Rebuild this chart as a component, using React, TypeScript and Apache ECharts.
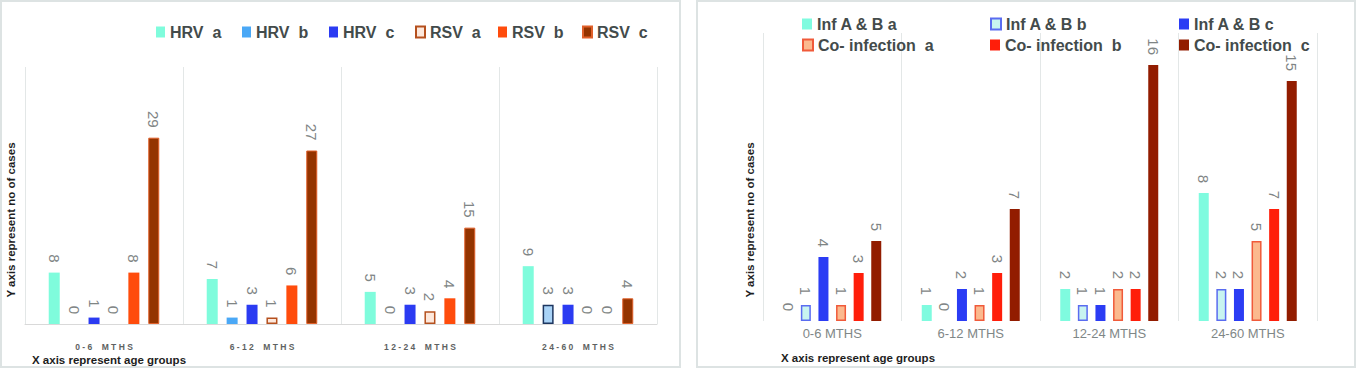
import React, { useEffect, useRef } from "react";
import * as echarts from "echarts";

const categories = ["0-6 MTHS", "6-12 MTHS", "12-24 MTHS", "24-60 MTHS"];

// Left chart: HRV / RSV
const hrvA = [8, 7, 5, 9];
const hrvB = [0, 1, 0, 3];
const hrvC = [1, 3, 3, 3];
const rsvA = [0, 1, 2, 0];
const rsvB = [8, 6, 4, 0];
const rsvC = [29, 27, 15, 4];

// Right chart: Influenza A & B / Co-infection
const infA = [0, 1, 2, 8];
const infB = [1, 0, 1, 2];
const infC = [4, 2, 1, 2];
const coA = [1, 1, 2, 5];
const coB = [3, 3, 2, 7];
const coC = [5, 7, 16, 15];

const leftNames = ["HRV a", "HRV b", "HRV c", "RSV a", "RSV b", "RSV c"];
const rightNames = [
  "Inf A & B a",
  "Inf A & B b",
  "Inf A & B c",
  "Co- infection  a",
  "Co- infection  b",
  "Co- infection  c",
];

const FONT = "'Liberation Sans', Arial, sans-serif";

function toData(vals: number[], special?: Record<number, any>) {
  return vals.map((v, i) => {
    if (special && special[i]) return { value: v, itemStyle: special[i] };
    if (v === 0) return { value: v, itemStyle: { borderWidth: 0 } };
    return v;
  });
}

const labelStyle = {
  show: true,
  position: "top" as const,
  rotate: -90,
  align: "right" as const,
  verticalAlign: "middle" as const,
  distance: 10,
  color: "#7f8585",
  fontSize: 15,
  fontFamily: FONT,
};

export default function App() {
  const ref = useRef<HTMLDivElement>(null);

  useEffect(() => {
    if (!ref.current) return;
    const chart = echarts.init(ref.current, undefined, { renderer: "svg" });

    const leftStyles = [
      { color: "#7ffcdc" },
      { color: "#4aa8f6" },
      { color: "#2b3bf2" },
      { color: "#fde8dc", borderColor: "#b5501e", borderWidth: 1.5 },
      { color: "#ff4c0c" },
      { color: "#943400", borderColor: "#e0602a", borderWidth: 1 },
    ];
    const rightStyles = [
      { color: "#7ffbdf" },
      { color: "#c8f4f0", borderColor: "#5a6cf0", borderWidth: 1.5 },
      { color: "#2b3cf4" },
      { color: "#fbb98e", borderColor: "#f05a3a", borderWidth: 1.5 },
      { color: "#ff1e0a" },
      { color: "#921c00" },
    ];
    const leftVals = [hrvA, hrvB, hrvC, rsvA, rsvB, rsvC];
    const rightVals = [infA, infB, infC, coA, coB, coC];

    const series: any[] = [];
    leftNames.forEach((name, k) => {
      const special =
        k === 1
          ? { 3: { color: "#a9d3f7", borderColor: "#1d3660", borderWidth: 1.5 } }
          : undefined;
      series.push({
        type: "bar",
        name,
        xAxisIndex: 0,
        yAxisIndex: 0,
        barWidth: 11,
        barGap: "81%",
        itemStyle: leftStyles[k],
        label: labelStyle,
        data: toData(leftVals[k], special),
      });
    });
    rightNames.forEach((name, k) => {
      series.push({
        type: "bar",
        name,
        xAxisIndex: 1,
        yAxisIndex: 1,
        barWidth: 10,
        barGap: "76%",
        itemStyle: rightStyles[k],
        label: labelStyle,
        data: toData(rightVals[k]),
      });
    });

    const leftLegendX = [151, 237, 324, 410, 493, 577];
    const rightLegendX = [797, 985, 1174];
    const legends: any[] = [];
    leftNames.forEach((n, k) => {
      legends.push({
        data: [n],
        left: leftLegendX[k],
        top: 19,
        itemWidth: 9,
        itemHeight: 11,
        itemGap: 0,
        icon: "rect",
        formatter: (s: string) => s.replace(" ", "  "),
        textStyle: { fontSize: 16, fontWeight: "bold", color: "#434b4b", fontFamily: FONT },
      });
    });
    rightNames.forEach((n, k) => {
      legends.push({
        data: [n],
        left: rightLegendX[k % 3],
        top: k < 3 ? 11 : 32,
        itemWidth: 10,
        itemHeight: 11,
        itemGap: 0,
        icon: "rect",
        textStyle: { fontSize: 16, fontWeight: "bold", color: "#434b4b", fontFamily: FONT },
      });
    });

    chart.setOption({
      animation: false,
      backgroundColor: "#ffffff",
      legend: legends,
      grid: [
        { left: 25, right: 700, top: 67, bottom: 46 },
        { left: 763, right: 40, top: 33, bottom: 49 },
      ],
      xAxis: [
        {
          type: "category",
          gridIndex: 0,
          data: categories,
          axisLine: { show: true, lineStyle: { color: "#d9d9d9", width: 1 } },
          axisTick: { show: false },
          splitLine: { show: true, lineStyle: { color: "#e3e7e7", width: 1 } },
          axisLabel: {
            margin: 18,
            fontSize: 8.5,
            fontWeight: "bold",
            color: "#5e6262",
            fontFamily: FONT,
            formatter: (s: string) => s.split("").join(" ").replace("  ", "   "),
          },
        },
        {
          type: "category",
          gridIndex: 1,
          data: categories,
          axisLine: { show: false },
          axisTick: { show: false },
          splitLine: { show: true, lineStyle: { color: "#e3e7e7", width: 1 } },
          axisLabel: {
            margin: 6,
            fontSize: 13,
            color: "#7f8787",
            fontFamily: FONT,
          },
        },
      ],
      yAxis: [
        {
          type: "value",
          gridIndex: 0,
          min: 0,
          max: 40,
          show: false,
          splitLine: { show: false },
        },
        {
          type: "value",
          gridIndex: 1,
          min: 0,
          max: 18,
          show: false,
          splitLine: { show: false },
        },
      ],
      graphic: [
        {
          type: "rect",
          shape: { x: 1, y: 1, width: 679, height: 366 },
          style: { fill: "none", stroke: "#dde3e3", lineWidth: 2 },
          silent: true,
          z: -1,
        },
        {
          type: "rect",
          shape: { x: 697, y: 1, width: 658, height: 366 },
          style: { fill: "none", stroke: "#dde3e3", lineWidth: 2 },
          silent: true,
          z: -1,
        },
        {
          type: "text",
          x: 11,
          y: 220,
          rotation: Math.PI / 2,
          style: {
            text: "Y axis represent no of cases",
            font: `bold 11.5px ${FONT}`,
            fill: "#1e1e1e",
            align: "center",
            verticalAlign: "middle",
          },
        },
        {
          type: "text",
          x: 750,
          y: 220,
          rotation: Math.PI / 2,
          style: {
            text: "Y axis represent no of cases",
            font: `bold 11.5px ${FONT}`,
            fill: "#1e1e1e",
            align: "center",
            verticalAlign: "middle",
          },
        },
        {
          type: "text",
          x: 32,
          y: 360,
          style: {
            text: "X axis represent age groups",
            font: `bold 11.5px ${FONT}`,
            fill: "#1e1e1e",
            align: "left",
            verticalAlign: "middle",
          },
        },
        {
          type: "text",
          x: 781,
          y: 358,
          style: {
            text: "X axis represent age groups",
            font: `bold 11.5px ${FONT}`,
            fill: "#1e1e1e",
            align: "left",
            verticalAlign: "middle",
          },
        },
      ],
      series,
    });

    return () => chart.dispose();
  }, []);

  return (
    <div
      ref={ref}
      style={{ position: "absolute", left: 0, top: 0, width: 1357, height: 370 }}
    />
  );
}
